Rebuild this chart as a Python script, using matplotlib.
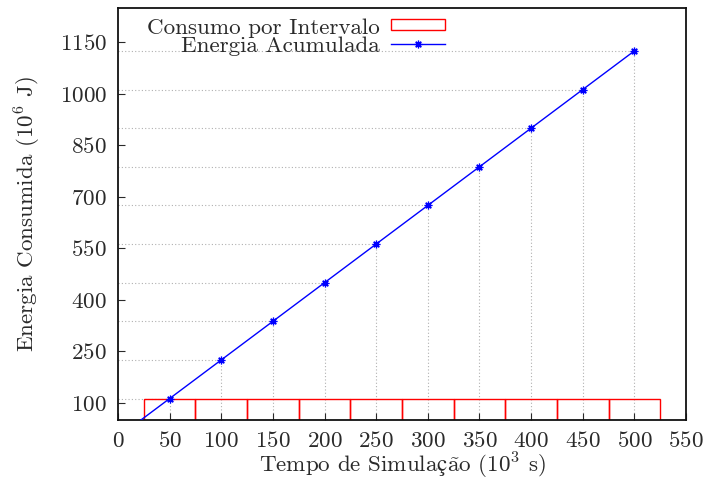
import matplotlib
matplotlib.use("Agg")
import matplotlib.pyplot as plt
from matplotlib.lines import Line2D
from matplotlib.patches import Rectangle

# Data: simulation time (10^3 s), energy per interval and accumulated energy (10^6 J)
tempo_intervalos = [50, 100, 150, 200, 250, 300, 350, 400, 450, 500]
consumo_intervalo = [112.5, 112.5, 112.5, 112.5, 112.5, 112.5, 112.5, 112.5, 112.5, 112.5]
tempo_acumulado = [0, 50, 100, 150, 200, 250, 300, 350, 400, 450, 500]
energia_acumulada = [0, 112.5, 225, 337.5, 450, 562.5, 675, 787.5, 900, 1012.5, 1125]
largura_intervalo = 50

x_ticks = [0, 50, 100, 150, 200, 250, 300, 350, 400, 450, 500, 550]
y_ticks = [100, 250, 400, 550, 700, 850, 1000, 1150]
x_lim = (0, 550)
y_lim = (50, 1250)

FS = 16.6
TXT = "#2a2a2a"

plt.rcParams["font.family"] = ["cmr10", "DejaVu Serif"]
plt.rcParams["mathtext.fontset"] = "cm"
plt.rcParams["axes.formatter.use_mathtext"] = True
plt.rcParams["font.size"] = FS

fig = plt.figure(figsize=(7.05, 4.87), dpi=100)
ax = fig.add_axes([118 / 705, 67 / 487, 568 / 705, 412 / 487])
ax.set_xlim(*x_lim)
ax.set_ylim(*y_lim)

# Dotted drop lines from each accumulated point to both axes
for x, y in zip(tempo_acumulado[1:], energia_acumulada[1:]):
    ax.plot([x_lim[0], x], [y, y], color="#b0b0b0", lw=0.8, ls=(0, (1, 2)), zorder=1)
    ax.plot([x, x], [y_lim[0], y], color="#b0b0b0", lw=0.8, ls=(0, (1, 2)), zorder=1)

# Consumption per interval as empty boxes
ax.bar(tempo_intervalos, consumo_intervalo, width=largura_intervalo,
       facecolor="none", edgecolor="#ff0000", linewidth=1.0, zorder=2)

# Accumulated energy curve
ax.plot(tempo_acumulado, energia_acumulada, color="#0000ff", lw=1.0,
        marker=(8, 2, 0), markersize=5.5, markeredgewidth=0.9, zorder=3)

ax.set_xticks(x_ticks)
ax.set_yticks(y_ticks)
ax.tick_params(direction="in", length=5, width=0.8, top=False, right=False,
               labelsize=FS, colors=TXT)
ax.tick_params(axis="x", pad=8)
ax.tick_params(axis="y", pad=8)
for s in ax.spines.values():
    s.set_linewidth(1.3)
    s.set_color("#111111")

# cmr10 lacks the accented letters, so they go through mathtext (with font fallback)
ax.set_xlabel(r"Tempo de Simula$\mathrm{ç\tilde{a}}$o (10$^3$ s)", fontsize=FS,
              color=TXT, labelpad=0)
ax.set_ylabel(r"Energia Consumida (10$^6$ J)", fontsize=FS, color=TXT, labelpad=12)

# Key, text right-aligned before the samples
tr = ax.transAxes
ax.text(0.461, 0.938, "Consumo por Intervalo", transform=tr, ha="right",
        va="baseline", fontsize=FS, color=TXT)
ax.text(0.461, 0.893, "Energia Acumulada", transform=tr, ha="right",
        va="baseline", fontsize=FS, color=TXT)
ax.add_patch(Rectangle((0.4806, 0.9466), 0.0951, 0.026, transform=tr,
                       facecolor="none", edgecolor="#ff0000", lw=1.0, clip_on=False))
ax.add_line(Line2D([0.4806, 0.5757], [0.9119, 0.9119], transform=tr,
                   color="#0000ff", lw=1.0, clip_on=False))
ax.add_line(Line2D([0.528], [0.9119], transform=tr, color="#0000ff",
                   marker=(8, 2, 0), markersize=5.5, markeredgewidth=0.9, clip_on=False))

fig.savefig("out.png", dpi=100)
